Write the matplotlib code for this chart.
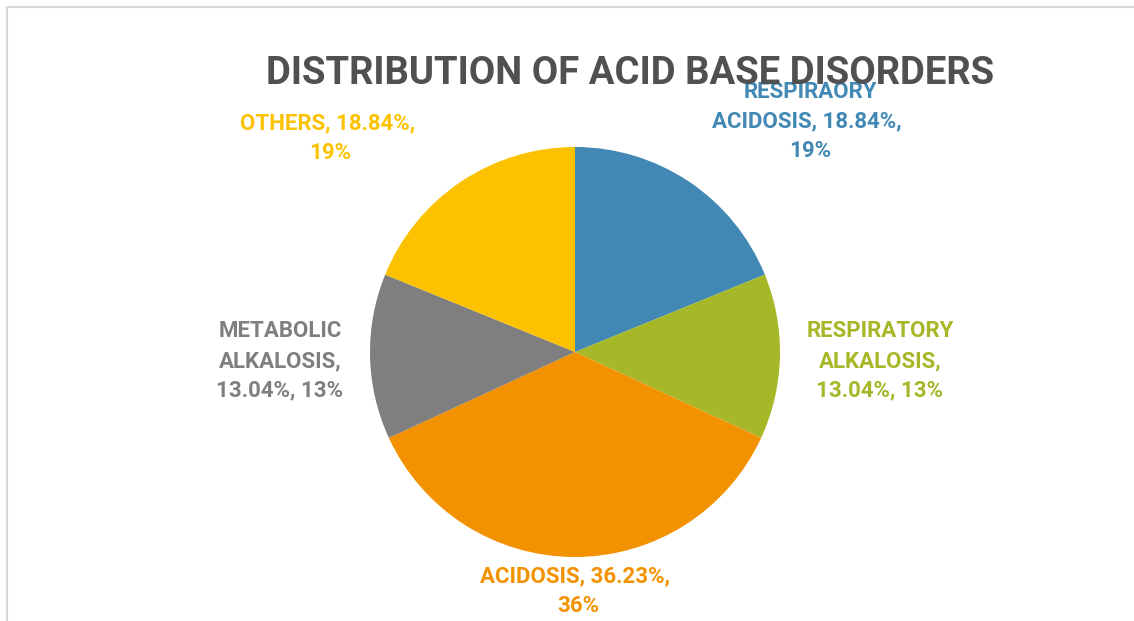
import matplotlib
matplotlib.use("Agg")
from matplotlib import pyplot as plt
from matplotlib.lines import Line2D

# acid base disorder shares, clockwise from 12 o'clock
names = ["RESPIRAORY ACIDOSIS", "RESPIRATORY ALKALOSIS", "ACIDOSIS",
         "METABOLIC ALKALOSIS", "OTHERS"]
shares = [18.84, 13.04, 36.23, 13.04, 18.84]
colors = ["#4188b4", "#a6b728", "#f39200", "#7f7f7f", "#fcc200"]

# label line breaks and where each label sits (pie radius units)
label_lines = [
    ["RESPIRAORY", "ACIDOSIS, {p}, ", "{r}"],
    ["RESPIRATORY", "ALKALOSIS,", "{p}, {r}"],
    ["ACIDOSIS, {p}, ", "{r}"],
    ["METABOLIC", "ALKALOSIS,", "{p}, {r}"],
    ["OTHERS, {p}, ", "{r}"],
]
label_pos = [(1.146, 1.125), (1.488, -0.044), (0.015, -1.166),
             (-1.439, -0.044), (-1.195, 1.044)]

W, H = 1134, 621
fig = plt.figure(figsize=(W / 100, H / 100), dpi=100)
fig.patch.set_facecolor("white")

# pie axes: centre (575, 352) px, radius 205 px
cx, cy, r = 575, 352, 205
ax = fig.add_axes([(cx - r) / W, (H - cy - r) / H, 2 * r / W, 2 * r / H])
ax.pie(shares, colors=colors, startangle=90, counterclock=False,
       radius=1.0, wedgeprops=dict(linewidth=0))
ax.set_xlim(-1, 1)
ax.set_ylim(-1, 1)
ax.set_aspect("equal")
ax.axis("off")

for name, v, lines, (x, y), c in zip(names, shares, label_lines, label_pos, colors):
    txt = "\n".join(l.format(p=f"{v:.2f}%", r=f"{round(v)}%") for l in lines)
    ax.text(x, y, txt, ha="center", va="center", color=c, fontsize=16,
            fontweight="bold", family="Roboto", linespacing=1.45, clip_on=False)

fig.text(630 / W, 1 - 73 / H, "DISTRIBUTION OF ACID BASE DISORDERS",
         ha="center", va="center", fontsize=27.5, fontweight="bold",
         family="Roboto", color="#505050")

# chart frame (only top and left edges visible)
frame = Line2D([7 / W, 7 / W, 1.0], [0.0, 1 - 7 / H, 1 - 7 / H],
               transform=fig.transFigure, color="#d9d9d9", linewidth=1.5)
fig.add_artist(frame)

fig.savefig("out.png", dpi=100)
